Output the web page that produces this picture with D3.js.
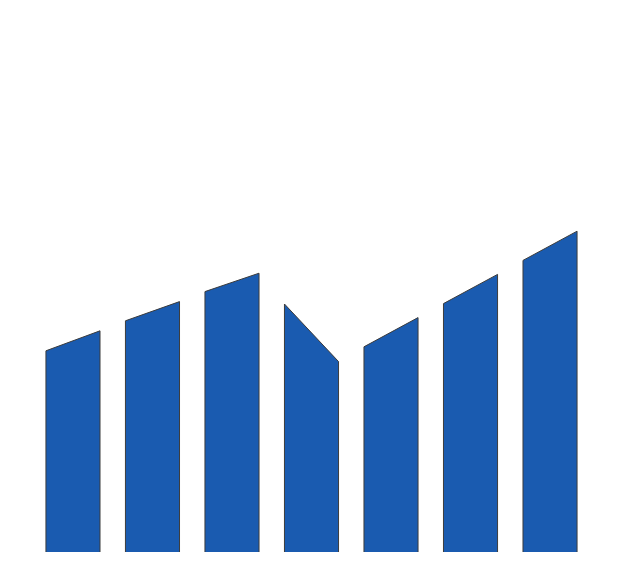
<!DOCTYPE html>
<html>
<head>
<meta charset="utf-8">
<script src="https://cdn.jsdelivr.net/npm/d3@7"></script>
<style>
  html, body { margin: 0; padding: 0; background: #fff; }
  svg { display: block; }
</style>
</head>
<body>
<svg id="chart" width="632" height="576"></svg>
<script>
// Data: each bar has a start (left-top) and end (right-top) value
const categories = ["A", "B", "C", "D", "E", "F", "G"];
const startValues = [50.3, 57.8, 65.1, 62.0, 51.3, 62.1, 72.9];
const endValues   = [55.3, 62.6, 69.7, 47.6, 58.6, 69.4, 80.2];

const svg = d3.select("#chart");
const x = d3.scaleBand().domain(categories).range([20.5, 602.5]).paddingInner(0.32).paddingOuter(0.32);
const y = d3.scaleLinear().domain([0, 100]).range([552, 152]);

const data = categories.map((c, i) => ({ c, s: startValues[i], e: endValues[i] }));

const g = svg.append("g");
g.selectAll("path.fill").data(data).join("path")
  .attr("class", "fill")
  .attr("fill", "#1a5bb0")
  .attr("d", d => {
    const x0 = x(d.c), x1 = x(d.c) + x.bandwidth();
    return `M${x0},${y(0)}L${x0},${y(d.s)}L${x1},${y(d.e)}L${x1},${y(0)}Z`;
  });
g.selectAll("path.edge").data(data).join("path")
  .attr("class", "edge")
  .attr("fill", "none")
  .attr("stroke", "#3c3c3c")
  .attr("stroke-width", 1)
  .attr("d", d => {
    const x0 = x(d.c), x1 = x(d.c) + x.bandwidth();
    return `M${x0},${y(0)}L${x0},${y(d.s)}L${x1},${y(d.e)}L${x1},${y(0)}`;
  });
</script>
</body>
</html>
